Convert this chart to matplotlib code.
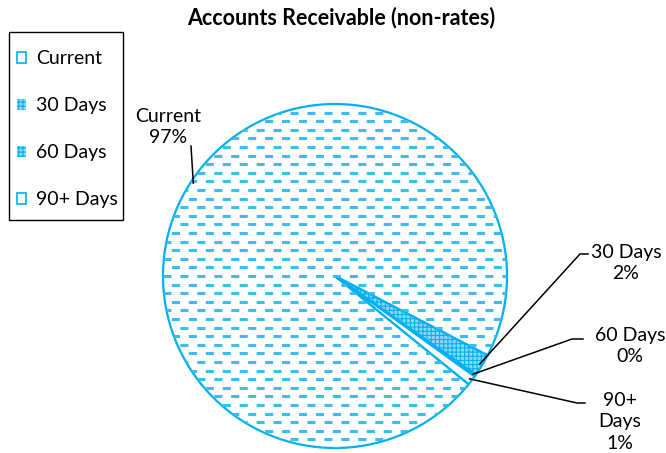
import numpy as np
import matplotlib.pyplot as plt
from matplotlib.lines import Line2D
from matplotlib.patches import Patch, Rectangle

# ===== DATA =====
categories = ["Current", "30 Days", "60 Days", "90+ Days"]
values = [96.8, 2.1, 0.2, 0.9]
pct_labels = ["97%", "2%", "0%", "1%"]

# ===== STYLE =====
W, H = 666, 453
BLUE = "#00B0F0"
LIGHT = "#8FD8F7"
FS = 14
plt.rcParams["font.family"] = ["Lato", "DejaVu Sans"]
plt.rcParams["hatch.linewidth"] = 0.8
plt.rcParams["lines.scale_dashes"] = False


def px(x, y):
    """pixel coords (top-left origin) -> figure fraction"""
    return x / W, 1 - y / H


fig = plt.figure(figsize=(W / 100, H / 100), dpi=100)

cx, cy, r = 335, 276, 172
ax = fig.add_axes([(cx - r) / W, (H - cy - r) / H, 2 * r / W, 2 * r / H])

wedges, _ = ax.pie(values, startangle=-39, counterclock=False, radius=1,
                   wedgeprops=dict(linewidth=1.6, edgecolor=BLUE))
ax.set_xlim(-1, 1)
ax.set_ylim(-1, 1)
ax.set_aspect("equal")
ax.axis("off")

styles = [
    dict(facecolor="white"),
    dict(facecolor=LIGHT, hatch="++++"),
    dict(facecolor=LIGHT, hatch="++++"),
    dict(facecolor="white"),
]
for w, st in zip(wedges, styles):
    w.set_facecolor(st["facecolor"])
    if "hatch" in st:
        w.set_hatch(st["hatch"])
        w.set_edgecolor(BLUE)

# dashed texture inside "Current" slice
rows = np.arange(-1.0, 1.0, 8.6 / r)
for i, y in enumerate(rows):
    off = 0 if i % 2 == 0 else 6.1
    ln, = ax.plot([-1.1, 1.1], [y, y], color="#3CBDF2", lw=2.2,
                  linestyle=(off, (5.8, 6.4)), solid_capstyle="butt",
                  dash_capstyle="butt")
    ln.set_clip_path(wedges[0])

# ===== LABELS =====
fig.text(*px(341, 18), "Accounts Receivable (non-rates)", ha="center", va="center",
         fontsize=15.5, fontweight="bold")

label_pos = [(168, 127), (626, 263), (630, 346), (620, 422)]
label_txt = [f"{c}\n{p}" for c, p in zip(categories, pct_labels)]
label_txt[3] = "90+\nDays\n" + pct_labels[3]
elbows = [None, [(580, 254), (588, 254)], [(572, 339), (583, 339)],
          [(577, 403), (585, 403)]]

to_fig = ax.transData + fig.transFigure.inverted()
for w, lbl, pos, elb in zip(wedges, label_txt, label_pos, elbows):
    fig.text(*px(*pos), lbl, ha="center", va="center", fontsize=FS,
             linespacing=1.3)
    mid = np.deg2rad((w.theta1 + w.theta2) / 2)
    p0 = to_fig.transform((0.985 * np.cos(mid), 0.985 * np.sin(mid)))
    if elb is None:
        pts = [tuple(p0), px(191, 146)]
    else:
        pts = [tuple(p0)] + [px(*e) for e in elb]
    xs, ys = zip(*pts)
    fig.add_artist(Line2D(xs, ys, transform=fig.transFigure, color="black", lw=1.1))

# ===== LEGEND =====
handles = [
    Patch(facecolor="white", edgecolor=BLUE, lw=1.2, hatch=None),
    Patch(facecolor=LIGHT, edgecolor=BLUE, lw=0, hatch="++++"),
    Patch(facecolor=LIGHT, edgecolor=BLUE, lw=0, hatch="++++"),
    Patch(facecolor="white", edgecolor=BLUE, lw=1.2),
]
leg = fig.legend(handles, categories, loc="upper left",
                 bbox_to_anchor=px(17, 50), bbox_transform=fig.transFigure,
                 fontsize=FS, frameon=False, labelspacing=1.55,
                 handlelength=0.48, handleheight=0.48, handletextpad=0.5,
                 borderpad=0, borderaxespad=0)
x0, y1 = px(9, 32)
x1, y0 = px(123, 220)
fig.add_artist(Rectangle((x0, y0), x1 - x0, y1 - y0, transform=fig.transFigure,
                         facecolor="none", edgecolor="black", lw=1.0))

fig.savefig("out.png", dpi=100)
